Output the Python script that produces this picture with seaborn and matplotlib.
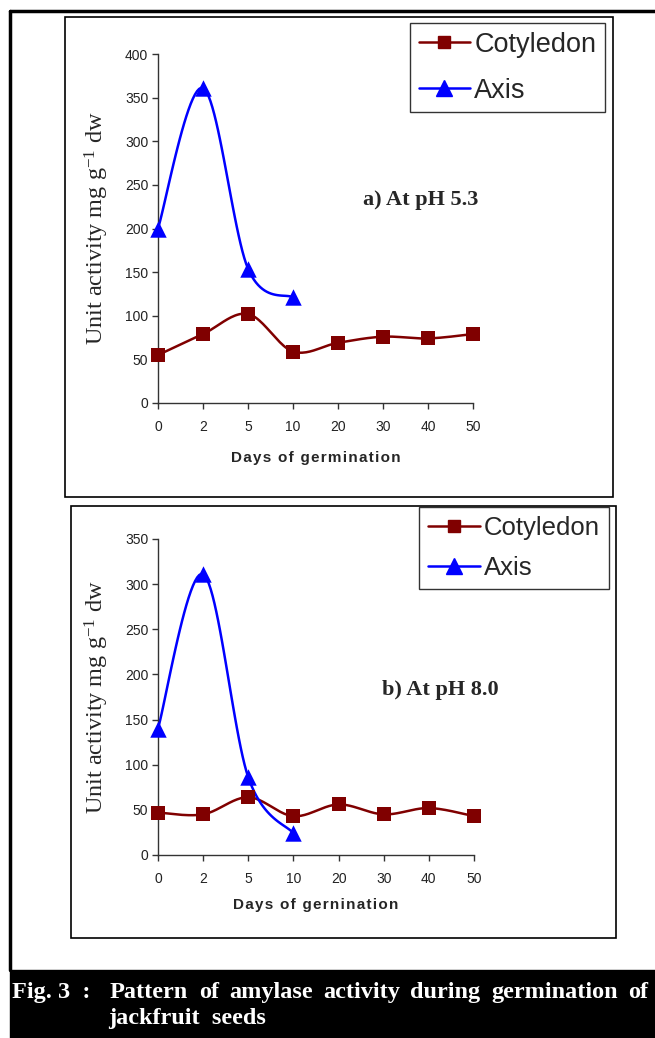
import numpy as np
import matplotlib
matplotlib.use("Agg")
import matplotlib.pyplot as plt
from matplotlib.lines import Line2D
from matplotlib.patches import Rectangle
import seaborn as sns

# values (amylase activity, unit activity mg g-1 dw)
days = ["0", "2", "5", "10", "20", "30", "40", "50"]
cot_ph53 = [55, 79, 102, 59, 69, 76, 74, 79]
axis_ph53 = [200, 361, 154, 121]
cot_ph80 = [47, 45, 64, 43, 56, 45, 52, 43]
axis_ph80 = [140, 311, 86, 24]

sns.set_style("ticks")
plt.rcParams["font.family"] = ["Liberation Sans", "DejaVu Sans"]
plt.rcParams["mathtext.fontset"] = "custom"
plt.rcParams["mathtext.rm"] = "Liberation Serif"
plt.rcParams["mathtext.it"] = "Liberation Serif:italic"

W, H = 655, 1038
RED, BLUE = "#800000", "#0000ff"
SERIF = ["Liberation Serif", "DejaVu Serif"]

fig = plt.figure(figsize=(W / 100, H / 100), dpi=100)


def fx(x):
    return x / W


def fy(y):
    return 1 - y / H


def smooth(vals, n=25):
    # excel-like smoothed line through the points (bezier, catmull-rom tangents)
    p = np.column_stack([np.arange(len(vals)), vals]).astype(float)
    q = np.vstack([p[:1], p, p[-1:]])
    t = np.linspace(0, 1, n)[1:, None]
    out = [p[:1]]
    for i in range(len(p) - 1):
        p0, p1, p2, p3 = q[i], q[i + 1], q[i + 2], q[i + 3]
        c1 = p1 + (p2 - p0) / 6
        c2 = p2 - (p3 - p1) / 6
        out.append((1 - t) ** 3 * p1 + 3 * (1 - t) ** 2 * t * c1
                   + 3 * (1 - t) * t ** 2 * c2 + t ** 3 * p2)
    return np.vstack(out)


def spaced(s):
    return "\u200a".join(s)


def panel(box, ax_px, cot, axis, ymax, xlabel, xlabel_y, tag, tag_xy, leg_xy, leg):
    x0, y0, x1, y1 = box
    fig.patches.append(Rectangle((fx(x0), fy(y1)), fx(x1 - x0), (y1 - y0) / H,
                                 transform=fig.transFigure, fill=False,
                                 edgecolor="black", lw=1.2))
    l, t, r, b = ax_px
    ax = fig.add_axes([fx(l), fy(b), fx(r - l), (b - t) / H])

    for vals, color, marker, size in [(cot, RED, "s", 100), (axis, BLUE, "^", 140)]:
        curve = smooth(vals)
        sns.lineplot(x=curve[:, 0], y=curve[:, 1], ax=ax, color=color, lw=1.8,
                     sort=False, estimator=None, clip_on=False)
        sns.scatterplot(x=np.arange(len(vals)), y=vals, ax=ax, color=color,
                        marker=marker, s=size, linewidth=0, clip_on=False, zorder=3)

    ax.set_xlim(0, len(days) - 1)
    ax.set_ylim(0, ymax)
    ax.set_xticks(range(len(days)))
    ax.set_xticklabels(days)
    ax.set_yticks(range(0, ymax + 1, 50))
    sns.despine(ax=ax)
    for s in ["left", "bottom"]:
        ax.spines[s].set_color("#333333")
        ax.spines[s].set_linewidth(1.0)
    ax.tick_params(axis="both", labelsize=10, colors="#333333", labelcolor="#222222",
                   length=4, width=1.0)
    ax.tick_params(axis="x", pad=8)
    ax.tick_params(axis="y", pad=3)

    ax.set_ylabel("Unit activity mg g$^{-1}$ dw", fontfamily=SERIF, fontsize=17.5,
                  va="center")
    ax.yaxis.set_label_coords(-(l - 97) / (r - l), 0.5)
    ax.set_xlabel(spaced(xlabel), fontsize=11, fontweight="bold", va="center")
    ax.xaxis.set_label_coords(0.5, -(xlabel_y - b) / (b - t))

    fig.text(fx(tag_xy[0]), fy(tag_xy[1]), tag, fontfamily=SERIF, fontweight="bold",
             fontsize=16, ha="center", va="center")

    fs, ls, bp, hl = leg
    handles = [Line2D([], [], color=RED, lw=1.8, marker="s", markersize=9),
               Line2D([], [], color=BLUE, lw=1.8, marker="^", markersize=11)]
    lg = ax.legend(handles, ["Cotyledon", "Axis"], loc="upper left",
                   bbox_to_anchor=(fx(leg_xy[0]), fy(leg_xy[1])),
                   bbox_transform=fig.transFigure, fontsize=fs,
                   frameon=True, fancybox=False, borderpad=bp,
                   labelspacing=ls, handlelength=hl, handletextpad=0.15,
                   borderaxespad=0)
    lg.get_frame().set_edgecolor("black")
    lg.get_frame().set_linewidth(1.0)
    return ax


panel((65, 17, 613, 497), (158, 54, 473, 403), cot_ph53, axis_ph53, 400,
      "Days of germination", 458, "a) At pH 5.3", (421, 200), (410, 23),
      (19.5, 0.74, 0.32, 1.9))
panel((71, 506, 616, 938), (158, 539, 474, 855), cot_ph80, axis_ph80, 350,
      "Days of gernination", 905, "b) At pH 8.0", (440, 690), (419, 507),
      (18.5, 0.62, 0.36, 2.0))

# outer frame (left and top only, as in the page scan)
fig.add_artist(Line2D([fx(10), fx(10)], [fy(11), fy(970)], color="black", lw=2.5,
                      transform=fig.transFigure))
fig.add_artist(Line2D([fx(10), 1], [fy(11), fy(11)], color="black", lw=2.5,
                      transform=fig.transFigure))

# caption bar
fig.patches.append(Rectangle((fx(10), 0), 1 - fx(10), (H - 970) / H,
                             transform=fig.transFigure, color="black"))
cap_kw = dict(fontfamily=SERIF, fontweight="bold", fontsize=17.5, color="white",
              va="baseline")
fig.text(fx(12), fy(998), "Fig. 3  :", **cap_kw)
words = "Pattern of amylase activity during germination of".split()
texts = [fig.text(0, fy(998), w, **cap_kw) for w in words]
fig.canvas.draw()
renderer = fig.canvas.get_renderer()
widths = [t.get_window_extent(renderer).width for t in texts]
gap = (648 - 110 - sum(widths)) / (len(words) - 1)
x = 110
for t, w in zip(texts, widths):
    t.set_x(fx(x))
    x += w + gap
fig.text(fx(108), fy(1024), "jackfruit  seeds", **cap_kw)

fig.savefig("out.png", dpi=100)
